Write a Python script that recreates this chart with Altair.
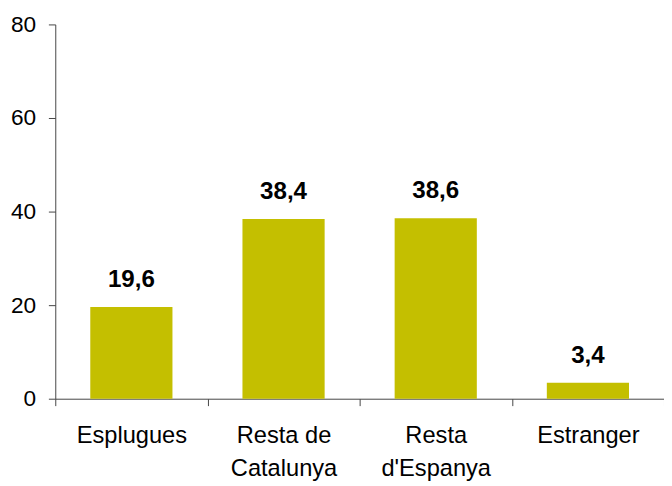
import altair as alt
import pandas as pd

categories = ["Esplugues", "Resta de\nCatalunya", "Resta\nd'Espanya", "Estranger"]
values = [19.6, 38.4, 38.6, 3.4]

df = pd.DataFrame({
    "cat": categories,
    "val": values,
    "lbl": [f"{v:.1f}".replace(".", ",") for v in values],
})

FONT = "Liberation Sans"
COLOR = "#C4BF00"
AXIS = "#444444"

x = alt.X(
    "cat:N",
    sort=categories,
    title=None,
    scale=alt.Scale(paddingInner=0, paddingOuter=0),
    axis=alt.Axis(
        labelAngle=0,
        labelExpr="split(datum.label, '\\n')",
        labelFont=FONT,
        labelFontSize=24,
        labelColor="#000000",
        labelLineHeight=34,
        labelBaseline="top",
        labelPadding=18,
        tickBand="extent",
        tickSize=7,
        tickColor=AXIS,
        domainColor=AXIS,
        grid=False,
    ),
)

y = alt.Y(
    "val:Q",
    title=None,
    scale=alt.Scale(domain=[0, 80]),
    axis=alt.Axis(
        values=[0, 20, 40, 60, 80],
        labelFont=FONT,
        labelFontSize=23,
        labelColor="#000000",
        labelPadding=13,
        tickSize=7,
        tickColor=AXIS,
        domainColor=AXIS,
        grid=False,
    ),
)

bars = alt.Chart(df).mark_bar(color=COLOR, width=alt.RelativeBandSize(0.54)).encode(x=x, y=y)
text = alt.Chart(df).mark_text(
    font=FONT, fontSize=24.5, fontWeight="bold", color="#000000",
    baseline="alphabetic", dy=-20,
).encode(x=alt.X("cat:N", sort=categories), y="val:Q", text="lbl:N")

chart = (bars + text).properties(
    width=618,
    height=380,
    padding={"left": 48, "top": 13, "right": 0, "bottom": 90},
    autosize=alt.AutoSizeParams(type="none"),
).configure(background="#ffffff", view={"stroke": None})

chart.save("out.html", embed_options={"renderer": "svg", "actions": False})
